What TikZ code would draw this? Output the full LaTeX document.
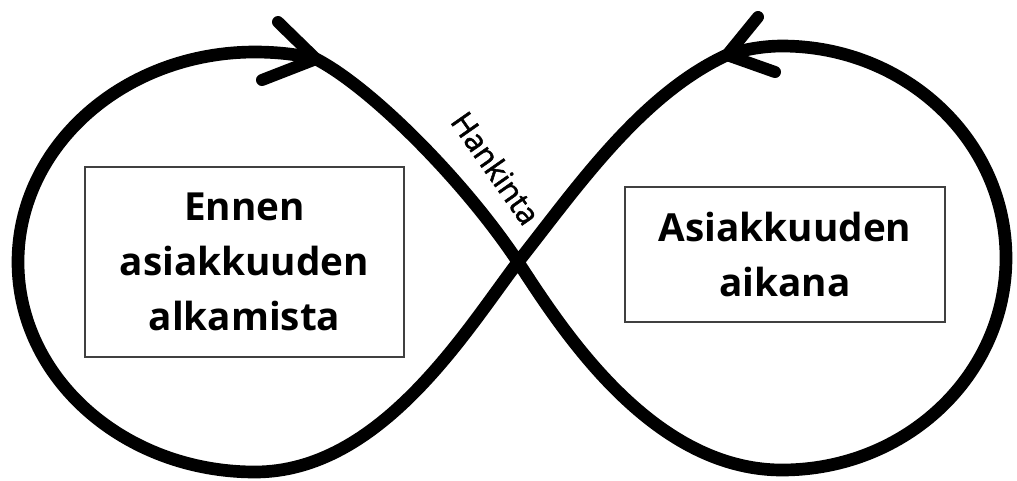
\documentclass[tikz,border=0pt]{standalone}
\usepackage{fontspec}
\setmainfont{Open Sans}
\newfontfamily\hankfont[FakeBold=1.6]{Open Sans}
\begin{document}
\begin{tikzpicture}[x=0.75pt,y=-0.75pt,
  loopline/.style={line width=9.5pt,line cap=round,line join=round,black},
  chevron/.style={line width=9pt,line cap=round,line join=round,black},
  textbox/.style={draw=black!75,line width=1.1pt,align=center,inner sep=0pt,
    font=\bfseries\fontsize{29}{41.25}\selectfont},
  edgelabel/.style={inner sep=0pt,font=\hankfont\fontsize{23}{26}\selectfont}]
\useasboundingbox (0,0) rectangle (1017,480);
% key points of the figure-eight
\coordinate (X) at (518,262);
\coordinate (lt) at (316,59);
\coordinate (LT) at (255,52);
\coordinate (LW) at (18,262);
\coordinate (LB) at (255,472);
\coordinate (rt) at (727,55);
\coordinate (RT) at (782,46);
\coordinate (RE) at (1006,258);
\coordinate (RB) at (782,470);
% figure-eight
\draw[loopline]
  (X) .. controls (465,182) and (372,88) .. (lt)
      .. controls (297,54) and (275,52) .. (LT)
      .. controls (124,52) and (18,146) .. (LW)
      .. controls (18,378) and (124,472) .. (LB)
      .. controls (380,472) and (465,332) .. (X)
      .. controls (575,190) and (640,95) .. (rt)
      .. controls (745,49) and (765,46) .. (RT)
      .. controls (906,46) and (1006,141) .. (RE)
      .. controls (1006,375) and (906,470) .. (RB)
      .. controls (650,470) and (560,326) .. (X);
% arrow chevrons
\coordinate (la) at (278,22);
\coordinate (lb) at (262,80);
\draw[chevron] (la) -- (lt) -- (lb);
\coordinate (ra) at (758,17);
\coordinate (rb) at (775,72);
\draw[chevron] (ra) -- (rt) -- (rb);
% boxes
\node[textbox,minimum width=239.25pt,minimum height=142.5pt] (before) at (244.5,262)
  {Ennen\\asiakkuuden\\alkamista};
\node[textbox,minimum width=240pt,minimum height=101.25pt] (during) at (785,254.5)
  {Asiakkuuden\\aikana};
\node[edgelabel,rotate=-55] (hank) at (496,168) {Hankinta};
\end{tikzpicture}
\end{document}
